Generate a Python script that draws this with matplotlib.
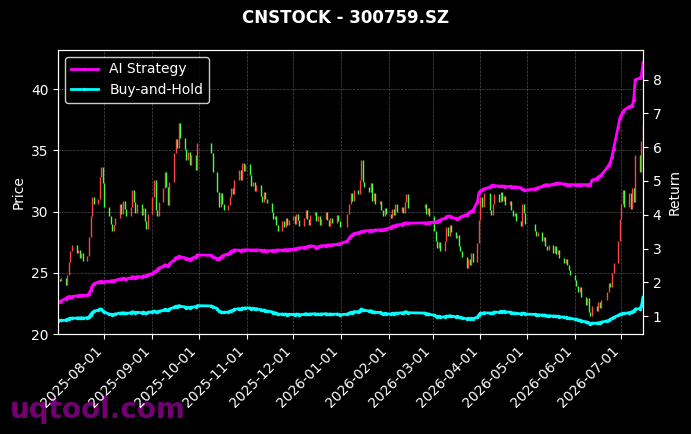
import matplotlib
matplotlib.use("Agg")
import matplotlib.pyplot as plt
import matplotlib.dates as mdates
import pandas as pd

# Daily closes, one list per month (trading days only)
close_jul25 = [24.5, 24.3, 24.6, 24.0, 24.8, 25.9, 26.8, 27.3, 26.6, 26.9, 26.2, 26.6, 26.0, 26.4, 27.9, 29.6, 31.2, 30.6, 31.0, 32.8, 33.6, 32.3]
close_aug25 = [30.4, 29.6, 29.0, 28.4, 28.9, 29.5, 30.6, 29.8, 30.9, 30.2, 29.6, 30.4, 31.8, 30.8, 29.9, 30.6, 29.7, 30.3, 29.2, 28.6, 29.8]
close_sep25 = [31.2, 32.6, 30.1, 29.6, 30.8, 31.9, 33.2, 32.0, 30.5, 32.4, 34.8, 35.9, 35.2, 37.2, 36.0, 35.1, 34.2, 34.9, 33.8, 34.6, 33.4, 35.6]
close_oct25 = [34.8, 33.2, 31.6, 30.4, 31.5, 30.6, 30.1, 30.5, 31.2, 31.9, 31.4, 32.6, 33.4, 32.6, 34.0, 33.3, 33.9]
close_nov25 = [33.0, 32.1, 32.4, 31.7, 32.2, 31.3, 30.8, 31.6, 31.0, 30.7, 30.0, 29.4, 29.6, 28.9, 28.4, 29.2, 28.7, 29.5, 28.9, 29.3]
close_dec25 = [29.6, 29.0, 29.8, 29.3, 28.8, 29.5, 30.1, 29.4, 28.9, 29.7, 30.0, 29.2, 29.6, 28.9, 29.4, 30.0, 29.3, 28.8, 29.5, 29.1, 29.7, 29.2, 28.7]
close_jan26 = [29.8, 30.6, 31.5, 30.9, 31.8, 31.4, 32.6, 34.2, 32.4, 32.0, 31.6, 32.3, 30.9, 31.5, 30.6, 30.9, 30.1, 29.6, 30.3, 29.8]
close_feb26 = [29.5, 30.2, 29.7, 30.6, 30.0, 30.4, 29.9, 30.8, 31.4, 30.3, 30.6, 29.8, 30.3, 29.6]
close_mar26 = [28.4, 27.6, 27.0, 27.5, 26.8, 27.6, 28.7, 28.0, 28.9, 28.3, 27.8, 28.1, 27.2, 26.8, 26.3, 25.4, 26.1, 25.6, 26.6, 25.9, 27.4, 29.3]
close_apr26 = [31.2, 30.4, 31.5, 30.1, 29.7, 30.6, 31.4, 30.8, 31.6, 30.9, 31.3, 30.5, 30.9, 30.1, 29.6, 29.9, 29.2, 28.8, 30.6, 29.9, 29.0]
close_may26 = [28.4, 28.0, 28.3, 27.6, 27.9, 27.2, 26.9, 27.3, 26.6, 27.2, 26.5, 26.9, 26.2, 25.8, 26.1, 25.6, 25.2, 24.8]
close_jun26 = [24.4, 23.9, 23.4, 23.8, 23.0, 22.4, 22.9, 21.8, 21.5, 22.3, 21.9, 22.6, 22.1, 22.8, 23.4, 24.2, 23.8, 25.0, 25.8, 27.6, 29.4]
close_jul26 = [30.6, 31.8, 30.4, 31.5, 30.2, 31.9, 30.8, 34.6, 33.2, 35.8, 37.1]
first_open = 24.8

# AI strategy cumulative return
strat_jul25 = [1.42, 1.43, 1.45, 1.52, 1.56, 1.58, 1.57, 1.58, 1.60, 1.60, 1.61, 1.60, 1.61, 1.62, 1.66, 1.76, 1.88, 1.95, 2.01, 2.02, 2.03, 2.01]
strat_aug25 = [2.02, 2.03, 2.04, 2.05, 2.05, 2.06, 2.10, 2.09, 2.12, 2.11, 2.10, 2.13, 2.17, 2.15, 2.14, 2.17, 2.16, 2.19, 2.18, 2.20, 2.23]
strat_sep25 = [2.26, 2.30, 2.33, 2.36, 2.42, 2.47, 2.52, 2.50, 2.48, 2.55, 2.66, 2.73, 2.72, 2.77, 2.75, 2.73, 2.68, 2.70, 2.67, 2.70, 2.76, 2.81]
strat_oct25 = [2.80, 2.76, 2.70, 2.69, 2.74, 2.77, 2.80, 2.84, 2.88, 2.92, 2.93, 2.96, 2.95, 2.94, 2.96, 2.95, 2.96]
strat_nov25 = [2.96, 2.95, 2.96, 2.95, 2.96, 2.95, 2.94, 2.95, 2.94, 2.93, 2.94, 2.95, 2.94, 2.95, 2.96, 2.95, 2.96, 2.97, 2.96, 2.97]
strat_dec25 = [2.98, 2.99, 3.00, 3.01, 3.02, 3.03, 3.04, 3.06, 3.07, 3.08, 3.06, 3.03, 3.05, 3.07, 3.08, 3.09, 3.10, 3.11, 3.10, 3.11, 3.12, 3.13, 3.14]
strat_jan26 = [3.22, 3.30, 3.36, 3.40, 3.44, 3.47, 3.48, 3.50, 3.51, 3.52, 3.53, 3.54, 3.53, 3.54, 3.55, 3.55, 3.56, 3.55, 3.57, 3.58]
strat_feb26 = [3.62, 3.66, 3.67, 3.68, 3.70, 3.71, 3.74, 3.75, 3.76, 3.75, 3.76, 3.75, 3.76, 3.77]
strat_mar26 = [3.78, 3.79, 3.80, 3.82, 3.85, 3.90, 3.94, 3.96, 3.95, 3.93, 3.89, 3.88, 3.90, 3.92, 3.95, 4.00, 4.04, 4.08, 4.10, 4.12, 4.38, 4.65]
strat_apr26 = [4.71, 4.74, 4.76, 4.82, 4.86, 4.88, 4.86, 4.85, 4.84, 4.85, 4.84, 4.83, 4.84, 4.83, 4.82, 4.83, 4.82, 4.80, 4.75, 4.74, 4.73]
strat_may26 = [4.76, 4.78, 4.80, 4.84, 4.87, 4.88, 4.89, 4.88, 4.90, 4.92, 4.93, 4.94, 4.93, 4.91, 4.90, 4.89, 4.89, 4.89]
strat_jun26 = [4.89, 4.89, 4.89, 4.89, 4.89, 4.89, 4.89, 4.90, 4.88, 5.02, 5.07, 5.12, 5.14, 5.18, 5.40, 5.48, 5.56, 5.72, 5.95, 6.60, 6.85]
strat_jul26 = [6.95, 7.05, 7.10, 7.20, 7.22, 7.21, 7.40, 8.00, 8.04, 8.10, 8.50]

# Buy-and-hold return
bh_jul25 = [0.86, 0.87, 0.87, 0.88, 0.90, 0.92, 0.93, 0.94, 0.94, 0.95, 0.94, 0.95, 0.94, 0.95, 0.98, 1.04, 1.10, 1.14, 1.18, 1.21, 1.20, 1.15]
bh_aug25 = [1.12, 1.06, 1.05, 1.04, 1.05, 1.06, 1.09, 1.08, 1.10, 1.09, 1.08, 1.10, 1.13, 1.11, 1.10, 1.11, 1.10, 1.12, 1.10, 1.08, 1.11]
bh_sep25 = [1.13, 1.15, 1.13, 1.12, 1.14, 1.17, 1.20, 1.19, 1.17, 1.21, 1.26, 1.29, 1.28, 1.31, 1.29, 1.27, 1.25, 1.26, 1.24, 1.26, 1.28, 1.31]
bh_oct25 = [1.30, 1.28, 1.22, 1.14, 1.13, 1.11, 1.11, 1.12, 1.14, 1.16, 1.17, 1.20, 1.22, 1.21, 1.24, 1.23, 1.24]
bh_nov25 = [1.24, 1.22, 1.23, 1.21, 1.22, 1.19, 1.17, 1.18, 1.16, 1.15, 1.13, 1.10, 1.10, 1.08, 1.05, 1.06, 1.05, 1.06, 1.04, 1.05]
bh_dec25 = [1.05, 1.04, 1.06, 1.05, 1.04, 1.05, 1.07, 1.06, 1.05, 1.06, 1.07, 1.05, 1.06, 1.05, 1.06, 1.07, 1.06, 1.05, 1.06, 1.05, 1.06, 1.05, 1.04]
bh_jan26 = [1.06, 1.08, 1.11, 1.10, 1.13, 1.13, 1.16, 1.21, 1.18, 1.17, 1.15, 1.16, 1.12, 1.13, 1.11, 1.11, 1.09, 1.07, 1.08, 1.07]
bh_feb26 = [1.06, 1.08, 1.07, 1.09, 1.08, 1.10, 1.09, 1.12, 1.13, 1.10, 1.09, 1.07, 1.07, 1.05]
bh_mar26 = [1.03, 1.00, 0.98, 0.99, 0.97, 0.98, 1.00, 0.99, 1.01, 1.00, 0.98, 0.99, 0.97, 0.96, 0.95, 0.92, 0.93, 0.91, 0.93, 0.92, 0.97, 1.04]
bh_apr26 = [1.09, 1.08, 1.10, 1.09, 1.08, 1.10, 1.12, 1.11, 1.14, 1.13, 1.14, 1.12, 1.12, 1.10, 1.09, 1.09, 1.08, 1.07, 1.09, 1.08, 1.06]
bh_may26 = [1.05, 1.04, 1.04, 1.03, 1.03, 1.02, 1.01, 1.01, 1.00, 1.00, 0.99, 0.99, 0.98, 0.97, 0.96, 0.95, 0.94, 0.93]
bh_jun26 = [0.91, 0.90, 0.88, 0.88, 0.86, 0.83, 0.82, 0.80, 0.78, 0.79, 0.79, 0.80, 0.80, 0.82, 0.86, 0.88, 0.90, 0.93, 0.96, 1.02, 1.05]
bh_jul26 = [1.06, 1.08, 1.08, 1.10, 1.11, 1.13, 1.15, 1.21, 1.22, 1.30, 1.56]

# exchange holidays (no candles on these weekdays)
holidays = ["2025-10-01", "2025-10-02", "2025-10-03", "2025-10-06", "2025-10-07", "2025-10-08",
            "2026-01-01", "2026-01-02", "2026-02-16", "2026-02-17", "2026-02-18", "2026-02-19",
            "2026-02-20", "2026-02-23", "2026-04-06", "2026-05-01", "2026-05-04", "2026-05-05",
            "2026-06-19"]

dates = pd.bdate_range("2025-07-02", "2026-07-15")
dates = dates[~dates.isin(pd.to_datetime(holidays))]

closes = (close_jul25 + close_aug25 + close_sep25 + close_oct25 + close_nov25 + close_dec25 + close_jan26
          + close_feb26 + close_mar26 + close_apr26 + close_may26 + close_jun26 + close_jul26)
strategy = (strat_jul25 + strat_aug25 + strat_sep25 + strat_oct25 + strat_nov25 + strat_dec25 + strat_jan26
            + strat_feb26 + strat_mar26 + strat_apr26 + strat_may26 + strat_jun26 + strat_jul26)
buy_hold = (bh_jul25 + bh_aug25 + bh_sep25 + bh_oct25 + bh_nov25 + bh_dec25 + bh_jan26
            + bh_feb26 + bh_mar26 + bh_apr26 + bh_may26 + bh_jun26 + bh_jul26)
assert len(dates) == len(closes) == len(strategy) == len(buy_hold)

opens = [first_open] + closes[:-1]
colors = ["#ff4444" if c >= o else "#44ff44" for o, c in zip(opens, closes)]

plt.style.use("dark_background")
fig, ax = plt.subplots(figsize=(6.91, 4.34), dpi=100)
fig.subplots_adjust(left=0.084, right=0.9305, top=0.885, bottom=0.2304)

# candles
ax.vlines(dates, opens, closes, colors=colors, linewidth=1.0)
ax.set_ylim(20, 43.2)
ax.set_ylabel("Price", fontsize=10)
ax.grid(True, color="gray", linestyle="--", linewidth=0.5, alpha=0.6)
ax.set_xlim(dates[0], dates[-1])
ax.xaxis.set_major_locator(mdates.MonthLocator(bymonthday=1))
ax.xaxis.set_major_formatter(mdates.DateFormatter("%Y-%m-%d"))
plt.setp(ax.get_xticklabels(), rotation=45, ha="right")

# returns on the right axis
ax2 = ax.twinx()
ax2.plot(dates, strategy, color="#ff00ff", linewidth=2, marker=".", markersize=3, label="AI Strategy")
ax2.plot(dates, buy_hold, color="#00ffff", linewidth=2, marker=".", markersize=3, label="Buy-and-Hold")
ax2.set_ylim(0.47, 8.88)
ax2.set_ylabel("Return", fontsize=10)
ax2.legend(loc="upper left", facecolor="black", edgecolor="white", fontsize=10)

fig.suptitle("CNSTOCK - 300759.SZ", fontsize=12, fontweight="bold", y=0.958, va="center")
fig.text(0.014, 0.037, "uqtool.com", color="#800080", alpha=0.9, fontsize=20,
         fontweight="bold", ha="left", va="baseline", zorder=-1)

plt.savefig("out.png", dpi=100)
